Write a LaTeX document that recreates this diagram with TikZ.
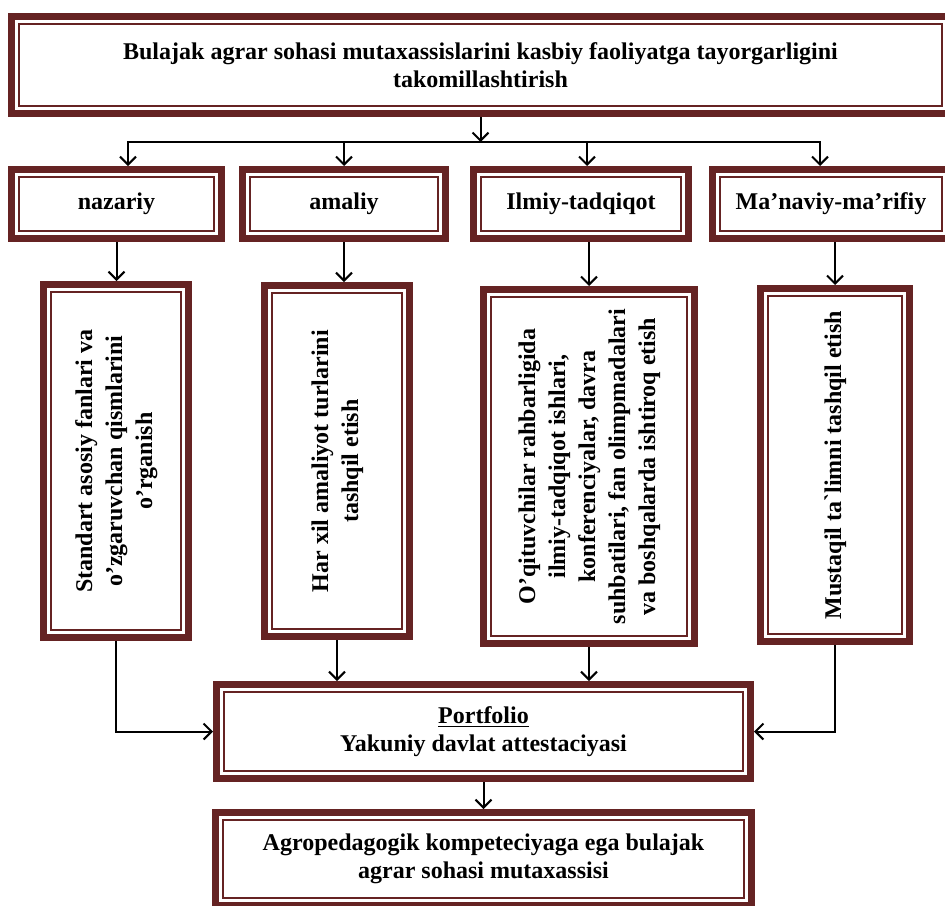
\documentclass[tikz,border=0pt]{standalone}
\usepackage{fontspec}
\setmainfont{Liberation Serif}
\usepackage{graphicx}
\usetikzlibrary{arrows.meta}

\definecolor{boxred}{RGB}{101,35,35}

\tikzset{
  stage/.style={draw=boxred, line width=0.8pt, fill=white, align=center, inner sep=0pt, outer sep=5.5pt,
    font=\bfseries\fontsize{12}{14}\selectfont},
  band/.style={draw=boxred, line width=3.5pt},
  arr/.style={line width=1pt, -{Straight Barb[length=4pt, width=8pt]}}
}

\newcommand{\uptext}[1]{\rotatebox{90}{\fontsize{12}{15}\selectfont\begin{tabular}{@{}c@{}}#1\end{tabular}}}

\begin{document}
\begin{tikzpicture}[x=0.5pt, y=-0.5pt]

\useasboundingbox (0, 0) rectangle (945, 905);

\node [stage, minimum width=461.5pt, minimum height=41pt] (top) at (480.5, 65)
  {Bulajak agrar sohasi mutaxassislarini kasbiy faoliyatga tayorgarligini\\takomillashtirish};

\node [stage, minimum width=97.5pt, minimum height=27pt] (naz) at (116.5, 204) {nazariy};
\node [stage, minimum width=94pt, minimum height=27pt] (ama) at (344, 204) {amaliy};
\node [stage, minimum width=100pt, minimum height=27pt] (ilm) at (581, 204) {Ilmiy-tadqiqot};
\node [stage, minimum width=111pt, minimum height=27pt] (man) at (831, 204) {Ma’naviy-ma’rifiy};

\node [stage, minimum width=65pt, minimum height=169pt] (std) at (116, 461)
  {\uptext{Standart asosiy fanlari va\\o’zgaruvchan qismlarini\\o’rganish}};
\node [stage, minimum width=65pt, minimum height=168pt] (har) at (337, 461)
  {\uptext{Har xil amaliyot turlarini\\tashqil etish}};
\node [stage, minimum width=98pt, minimum height=169.5pt] (qit) at (589, 466.5)
  {\uptext{O’qituvchilar rahbarligida\\ilmiy-tadqiqot ishlari,\\konferenciyalar, davra\\suhbatilari, fan olimpmadalari\\va boshqalarda ishtiroq etish}};
\node [stage, minimum width=67pt, minimum height=169pt] (mus) at (835, 465)
  {\uptext{Mustaqil ta\textasciigrave limni tashqil etish}};

\node [stage, minimum width=259.5pt, minimum height=39.5pt] (port) at (483.5, 731.5)
  {\underline{Portfolio}\\Yakuniy davlat attestaciyasi};
\node [stage, minimum width=260.5pt, minimum height=39pt] (fin) at (483.5, 859)
  {Agropedagogik kompeteciyaga ega bulajak\\agrar sohasi mutaxassisi};

% thick outer frame of every box
\foreach \n in {top, naz, ama, ilm, man, std, har, qit, mus, port, fin}
  \draw [band] ([shift={(1.75pt,-1.75pt)}]\n.north west) rectangle ([shift={(-1.75pt,1.75pt)}]\n.south east);

\coordinate (hub) at (484, 142);

\draw [arr] (top.south) -- (top.south |- hub);
\draw [arr] (hub) -| ([xshift=5.75pt]naz.north);
\draw [arr] (hub) -| (ama.north);
\draw [arr] (hub) -| ([xshift=3pt]ilm.north);
\draw [arr] (hub) -| ([xshift=-5.5pt]man.north);

\draw [arr] (naz.south) -- (naz.south |- std.north);
\draw [arr] (ama.south) -- (ama.south |- har.north);
\draw [arr] (qit.north |- ilm.south) -- (qit.north);
\draw [arr] (mus.north |- man.south) -- (mus.north);

\draw [arr] (std.south) |- (port.west);
\draw [arr] (har.south) -- (har.south |- port.north);
\draw [arr] (qit.south) -- (qit.south |- port.north);
\draw [arr] (mus.south) |- (port.east);
\draw [arr] (port.south) -- (fin.north);

\end{tikzpicture}
\end{document}
